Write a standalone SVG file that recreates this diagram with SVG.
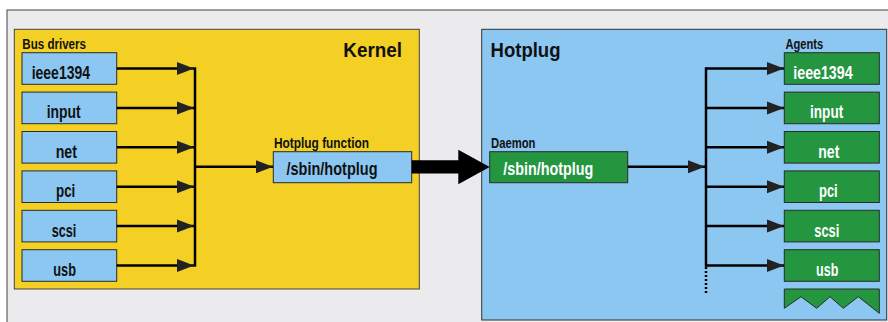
<svg xmlns="http://www.w3.org/2000/svg" width="888" height="322" viewBox="0 0 888 322">
<defs>
<style>
.lbl{font-family:"Liberation Sans",Arial,sans-serif;font-size:14px;font-weight:bold;fill:#111}
.ttl{font-family:"Liberation Sans",Arial,sans-serif;font-size:20px;font-weight:bold;fill:#111}
.bt{font-family:"Liberation Sans",Arial,sans-serif;font-size:19px;font-weight:bold;fill:#111}
.gt{font-family:"Liberation Sans",Arial,sans-serif;font-size:19px;font-weight:bold;fill:#fff}
.blue{fill:#8bc7f1;stroke:#2b2b2b;stroke-width:1}
.green{fill:#23963f;stroke:#2b2b2b;stroke-width:1}
.ln{stroke:#000;stroke-width:2.5;fill:none}
.arr{stroke:#000;stroke-width:2.5;fill:none;marker-end:url(#ah)}
</style>
<marker id="ah" markerUnits="userSpaceOnUse" markerWidth="18" markerHeight="14" refX="17" refY="7" orient="auto">
<path d="M0,0.5 L17,7 L0,13.5 z" fill="#222"/>
</marker>
</defs>
<rect x="7" y="10" width="890" height="320" fill="#ebebed" stroke="#444" stroke-width="1"/>
<g id="kernel">
<rect x="14.3" y="29.3" width="405" height="259.7" fill="#f3d023" stroke="#444" stroke-width="1"/>
<text class="ttl" x="343.3" y="56.7" textLength="58.7" lengthAdjust="spacingAndGlyphs">Kernel</text>
<text class="lbl" x="22.3" y="48.5" textLength="63.7" lengthAdjust="spacingAndGlyphs">Bus drivers</text>
</g>
<g id="hotplug">
<rect x="481.7" y="29.3" width="405" height="290.7" fill="#8bc7f1" stroke="#333" stroke-width="1"/>
<text class="ttl" x="490.5" y="56.7" textLength="70" lengthAdjust="spacingAndGlyphs">Hotplug</text>
<text class="lbl" x="274" y="147.7" textLength="95" lengthAdjust="spacingAndGlyphs">Hotplug function</text>
<text class="lbl" x="491" y="147.7" textLength="44.5" lengthAdjust="spacingAndGlyphs">Daemon</text>
<text class="lbl" x="785.5" y="48.7" textLength="37.7" lengthAdjust="spacingAndGlyphs">Agents</text>
</g>
<g id="bus-ieee1394"><rect class="blue" x="22" y="52.7" width="94.7" height="31.6"/><text class="bt" x="31.7" y="79" textLength="58.3" lengthAdjust="spacingAndGlyphs">ieee1394</text></g>
<g id="bus-input"><rect class="blue" x="22" y="92.1" width="94.7" height="31.6"/><text class="bt" x="46.7" y="118.4" textLength="34" lengthAdjust="spacingAndGlyphs">input</text></g>
<g id="bus-net"><rect class="blue" x="22" y="131.5" width="94.7" height="31.6"/><text class="bt" x="55.7" y="157.8" textLength="21.3" lengthAdjust="spacingAndGlyphs">net</text></g>
<g id="bus-pci"><rect class="blue" x="22" y="170.9" width="94.7" height="31.6"/><text class="bt" x="56" y="197.2" textLength="19.3" lengthAdjust="spacingAndGlyphs">pci</text></g>
<g id="bus-scsi"><rect class="blue" x="22" y="210.3" width="94.7" height="31.6"/><text class="bt" x="51.7" y="236.6" textLength="24.7" lengthAdjust="spacingAndGlyphs">scsi</text></g>
<g id="bus-usb"><rect class="blue" x="22" y="249.7" width="94.7" height="31.6"/><text class="bt" x="53.3" y="276" textLength="22.7" lengthAdjust="spacingAndGlyphs">usb</text></g>
<g id="hotplug-function"><rect class="blue" x="273.3" y="151.7" width="138.4" height="31"/><text class="bt" x="286.5" y="175" textLength="91" lengthAdjust="spacingAndGlyphs">/sbin/hotplug</text></g>
<g id="daemon"><rect class="green" x="489.7" y="151.7" width="138" height="31"/><text class="gt" x="503.3" y="175" textLength="90" lengthAdjust="spacingAndGlyphs">/sbin/hotplug</text></g>
<g id="agent-ieee1394"><rect class="green" x="784.3" y="52.7" width="95" height="31.6"/><text class="gt" x="793.3" y="79" textLength="59.3" lengthAdjust="spacingAndGlyphs">ieee1394</text></g>
<g id="agent-input"><rect class="green" x="784.3" y="92.1" width="95" height="31.6"/><text class="gt" x="810" y="118.4" textLength="33.3" lengthAdjust="spacingAndGlyphs">input</text></g>
<g id="agent-net"><rect class="green" x="784.3" y="131.5" width="95" height="31.6"/><text class="gt" x="818.3" y="157.8" textLength="21" lengthAdjust="spacingAndGlyphs">net</text></g>
<g id="agent-pci"><rect class="green" x="784.3" y="170.9" width="95" height="31.6"/><text class="gt" x="819" y="197.2" textLength="18.7" lengthAdjust="spacingAndGlyphs">pci</text></g>
<g id="agent-scsi"><rect class="green" x="784.3" y="210.3" width="95" height="31.6"/><text class="gt" x="814.3" y="236.6" textLength="25" lengthAdjust="spacingAndGlyphs">scsi</text></g>
<g id="agent-usb"><rect class="green" x="784.3" y="249.7" width="95" height="31.6"/><text class="gt" x="816" y="276" textLength="22.3" lengthAdjust="spacingAndGlyphs">usb</text></g>
<g id="agent-more"><path class="green" d="M784.3,289 L879.3,289 L879.3,313.3 L858.3,296.7 L843.3,308.3 L830,296.7 L816.7,308.3 L801,296.7 L784.3,308.3 z"/></g>
<g id="connectors">
<line class="arr" x1="116.7" y1="68.5" x2="194" y2="68.5"/>
<line class="arr" x1="116.7" y1="107.9" x2="194" y2="107.9"/>
<line class="arr" x1="116.7" y1="147.3" x2="194" y2="147.3"/>
<line class="arr" x1="116.7" y1="186.7" x2="194" y2="186.7"/>
<line class="arr" x1="116.7" y1="226.1" x2="194" y2="226.1"/>
<line class="arr" x1="116.7" y1="265.5" x2="194" y2="265.5"/>
<line class="ln" x1="195" y1="67.3" x2="195" y2="266.7"/>
<line class="arr" x1="195" y1="166.8" x2="273" y2="166.8"/>
<polygon points="411.7,160.3 458.3,160.3 458.3,149.7 489.7,167 458.3,184.3 458.3,173.6 411.7,173.6" fill="#000"/>
<line class="arr" x1="627.7" y1="166.8" x2="705" y2="166.8"/>
<line class="ln" x1="706" y1="67.3" x2="706" y2="266.7"/>
<line x1="706" y1="267" x2="706" y2="294" stroke="#000" stroke-width="2.5" stroke-dasharray="2,2"/>
<line class="arr" x1="706" y1="68.5" x2="784" y2="68.5"/>
<line class="arr" x1="706" y1="107.9" x2="784" y2="107.9"/>
<line class="arr" x1="706" y1="147.3" x2="784" y2="147.3"/>
<line class="arr" x1="706" y1="186.7" x2="784" y2="186.7"/>
<line class="arr" x1="706" y1="226.1" x2="784" y2="226.1"/>
<line class="arr" x1="706" y1="265.5" x2="784" y2="265.5"/>
</g>
</svg>
